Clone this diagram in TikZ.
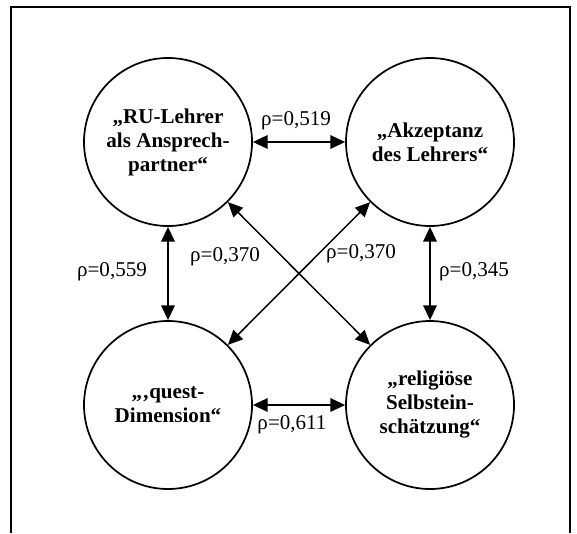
\documentclass[tikz,border=0pt]{standalone}
\usepackage{fontspec}
\setmainfont{Liberation Serif}
\usetikzlibrary{arrows.meta}
\begin{document}
\begin{tikzpicture}[x=0.75pt,y=-0.75pt,
  factor/.style={circle,draw,line width=1.3pt,minimum size=126pt,inner sep=0pt,
    align=center,font=\fontsize{15.8}{18}\selectfont\bfseries},
  corr/.style={font=\fontsize{15.8}{18}\selectfont,inner sep=0pt},
  link/.style={{Triangle[length=11pt,width=10pt]}-{Triangle[length=11pt,width=10pt]},
    line width=1.5pt},
  cross/.style={link,line width=1.1pt}]
\useasboundingbox (0,0) rectangle (577,533);
% open frame around the diagram
\draw[line width=1.5pt] (10.7,533) -- (10.7,6.7) -- (570,6.7) -- (570,533);

% the four factors
\node[factor] (ansprech) at (168,142) {„RU-Lehrer\\als Ansprech-\\partner“};
\node[factor] (akzeptanz) at (430,142) {„Akzeptanz\\des Lehrers“};
\node[factor] (quest) at (168,405) {„‚quest-\\Dimension“};
\node[factor] (selbst) at (430,405) {„religiöse\\Selbstein-\\schätzung“};

% correlations
\draw[link] (ansprech) -- (akzeptanz);
\draw[link] (ansprech) -- (quest);
\draw[link] (akzeptanz) -- (selbst);
\draw[link] (quest) -- (selbst);
\draw[cross] (ansprech) -- (selbst);
\draw[cross] (akzeptanz) -- (quest);

% coefficients
\node[corr] (r1) at (296,121) {ρ=0,519};
\node[corr] (r2) at (112,272) {ρ=0,559};
\node[corr] (r3) at (225,257) {ρ=0,370};
\node[corr] (r4) at (361,254) {ρ=0,370};
\node[corr] (r5) at (474,272) {ρ=0,345};
\node[corr] (r6) at (292,425) {ρ=0,611};
\end{tikzpicture}
\end{document}
